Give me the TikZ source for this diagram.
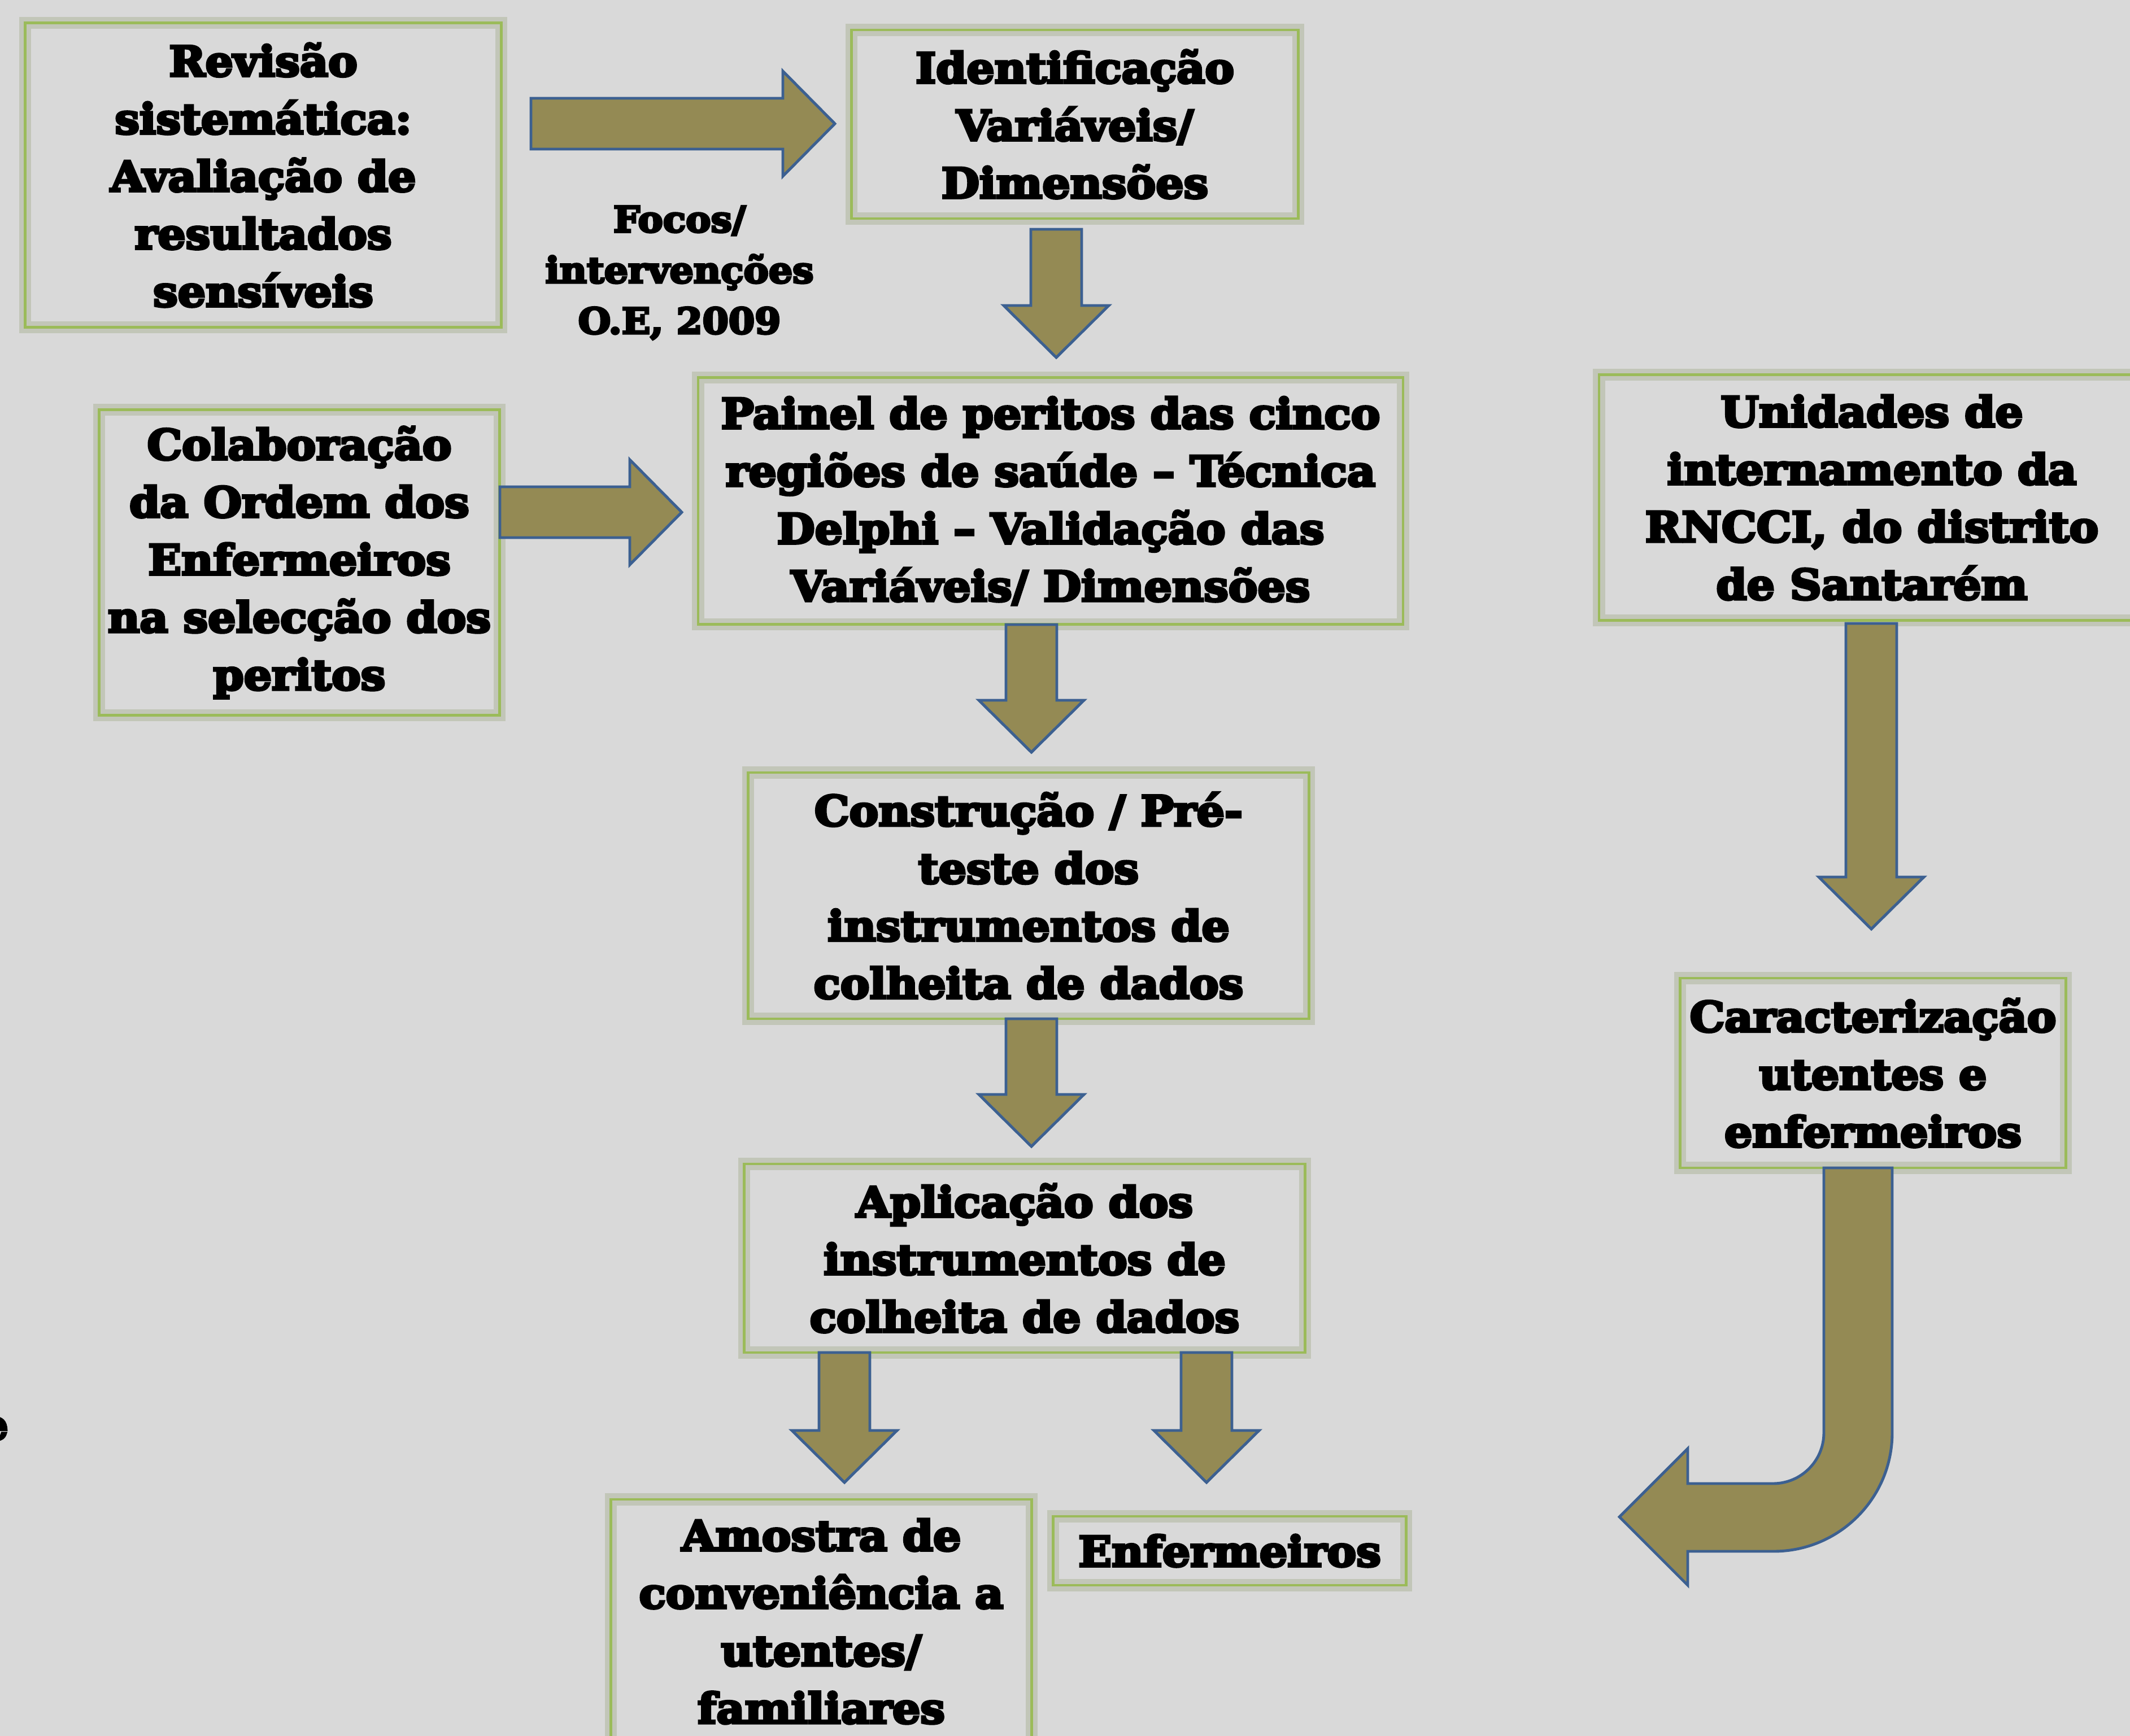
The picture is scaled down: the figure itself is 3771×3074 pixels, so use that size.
\documentclass[tikz,border=0pt]{standalone}
\usepackage{fontspec}
\newfontfamily\heavyfont[FakeBold=6, FakeStretch=1.05]{DejaVu Serif Bold}
\usetikzlibrary{calc}

\definecolor{bggray}{RGB}{217,217,217}
\definecolor{boxgreen}{RGB}{155,187,89}
\definecolor{arrowfill}{RGB}{148,138,84}
\definecolor{arrowedge}{RGB}{60,96,145}

\tikzset{
  box/.style={draw=boxgreen, line width=1.2pt, align=center, inner sep=0pt,
    font=\heavyfont\fontsize{21}{29}\selectfont,
    preaction={draw=boxgreen!50!gray, line width=6pt, opacity=0.3}},
  fatarrow/.style={fill=arrowfill, draw=arrowedge, line width=1.4pt, line join=miter,
    to path={($(\tikztotarget)!9.2mm!(\tikztostart)$) coordinate (hb)
      ($(\tikztostart)!4.5mm!90:(\tikztotarget)$)
      -- ($(hb)!4.5mm!-90:(\tikztostart)$) -- ($(hb)!9.3mm!-90:(\tikztostart)$)
      -- (\tikztotarget)
      -- ($(hb)!9.3mm!90:(\tikztostart)$) -- ($(hb)!4.5mm!90:(\tikztostart)$)
      -- ($(\tikztostart)!4.5mm!-90:(\tikztotarget)$) -- cycle}},
  bentarrow/.style={fill=arrowfill, draw=arrowedge, line width=1.4pt, line join=miter}
}

\begin{document}
\begin{tikzpicture}[x=0.1mm,y=-0.1mm]
  \useasboundingbox[fill=bggray] (0,0) rectangle (3771,3074);

  \node[box, minimum width=84.3mm, minimum height=53.9mm] (rev) at (466,310)
    {Revisão\\ sistemática:\\ Avaliação de\\ resultados\\ sensíveis};
  \node[box, minimum width=79.1mm, minimum height=33.4mm] (ident) at (1903,220)
    {Identificação\\ Variáveis/\\ Dimensões};
  \node[align=center, font=\heavyfont\fontsize{18}{25.6}\selectfont] (focos) at (1203,483)
    {Focos/\\ intervenções\\ O.E, 2009};
  \node[box, minimum width=124.8mm, minimum height=43.7mm] (painel) at (1860,887)
    {Painel de peritos das cinco\\ regiões de saúde – Técnica\\ Delphi – Validação das\\ Variáveis/ Dimensões};
  \node[box, minimum width=70.9mm, minimum height=54.1mm] (colab) at (530,996)
    {Colaboração\\ da Ordem dos\\ Enfermeiros\\ na selecção dos\\ peritos};
  \node[box, minimum width=96.6mm, minimum height=43.5mm] (unid) at (3314,881)
    {Unidades de\\ internamento da\\ RNCCI, do distrito\\ de Santarém};
  \node[box, minimum width=99.3mm, minimum height=43.6mm] (constr) at (1821,1586)
    {Construção / Pré-\\ teste dos\\ instrumentos de\\ colheita de dados};
  \node[box, minimum width=68.3mm, minimum height=33.6mm] (carac) at (3316,1900)
    {Caracterização\\ utentes e\\ enfermeiros};
  \node[box, minimum width=99.3mm, minimum height=33.4mm] (aplic) at (1814,2228)
    {Aplicação dos\\ instrumentos de\\ colheita de dados};
  \node[box, minimum width=74.5mm, minimum height=43.2mm] (amostra) at (1454,2871)
    {Amostra de\\ conveniência a\\ utentes/\\ familiares};
  \node[box, minimum width=62.5mm, minimum height=12.2mm] (enf) at (2177,2746)
    {Enfermeiros};
  \node[font=\heavyfont\fontsize{21}{29}\selectfont] (frag) at (-10,2530) {e};

  % ends of the block arrows
  \coordinate (a1s) at (940,219);   \coordinate (a1t) at (1478,219);
  \coordinate (a2s) at (885,907);   \coordinate (a2t) at (1207,907);
  \coordinate (d1s) at (1870,406);  \coordinate (d1t) at (1870,633);
  \coordinate (d2s) at (1826,1106); \coordinate (d2t) at (1826,1332);
  \coordinate (d3s) at (1826,1804); \coordinate (d3t) at (1826,2030);
  \coordinate (d4s) at (1495,2395); \coordinate (d4t) at (1495,2625);
  \coordinate (d5s) at (2136,2395); \coordinate (d5t) at (2136,2625);
  \coordinate (d6s) at (3313,1104); \coordinate (d6t) at (3313,1645);

  \draw[fatarrow] (a1s) to (a1t);
  \draw[fatarrow] (a2s) to (a2t);
  \draw[fatarrow] (d1s) to (d1t);
  \draw[fatarrow] (d2s) to (d2t);
  \draw[fatarrow] (d3s) to (d3t);
  \draw[fatarrow] (d4s) to (d4t);
  \draw[fatarrow] (d5s) to (d5t);
  \draw[fatarrow] (d6s) to (d6t);

  % bent arrow under carac
  \draw[bentarrow] (3229,2068) -- (3350,2068) -- (3350,2537)
    arc[start angle=0, end angle=-90, radius=21mm] -- (2988,2747) -- (2988,2807)
    -- (2867,2686) -- (2988,2565) -- (2988,2627) -- (3139,2627)
    arc[start angle=-90, end angle=0, radius=9mm] -- cycle;
\end{tikzpicture}
\end{document}
